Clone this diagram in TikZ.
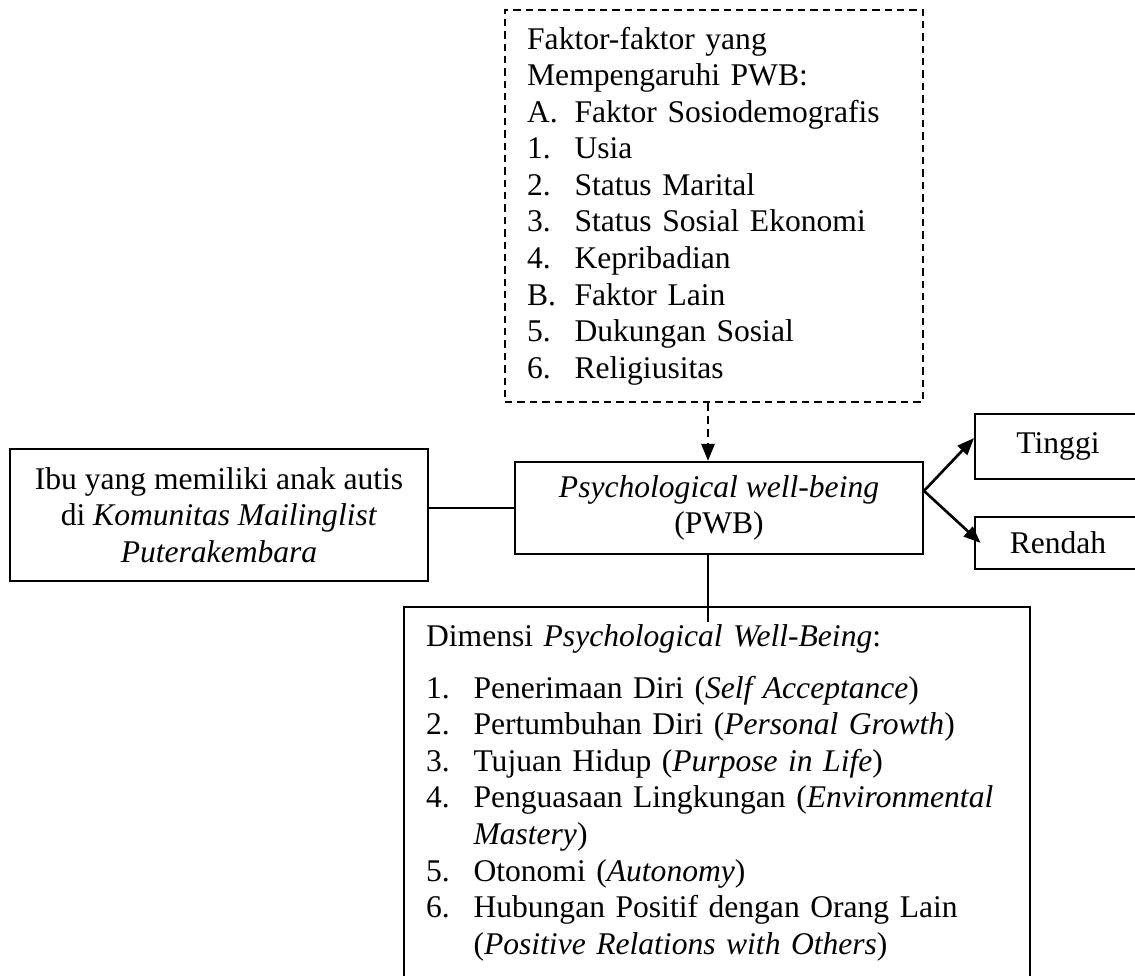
\documentclass[tikz,border=0pt]{standalone}
\usepackage{fontspec}
\setmainfont{Liberation Serif}
\usetikzlibrary{arrows.meta, positioning}

\newcommand{\itm}[2]{\makebox[18pt][l]{#1}#2}

\begin{document}
\begin{tikzpicture}[x=0.38pt, y=-0.38pt,
  font=\fontsize{12pt}{13.9pt}\selectfont,
  box/.style={draw, line width=0.8pt, inner sep=0pt},
  conn/.style={line width=0.8pt},
  arr/.style={line width=1pt, -{Triangle[length=6.5pt,width=5pt]}}]
  \useasboundingbox (0,0) rectangle (1135,975);
  \clip (0,0) rectangle (1135,975);
  % Faktor yang mempengaruhi
  \node[box, dash pattern=on 2.8pt off 1.9pt, minimum width=158.8pt, minimum height=149pt,
        text width=142pt, align=left] (faktor) at (714,206)
    {Faktor-faktor yang\\
     Mempengaruhi PWB:\\
     \itm{A.}{Faktor Sosiodemografis}\\
     \itm{1.}{Usia}\\
     \itm{2.}{Status Marital}\\
     \itm{3.}{Status Sosial Ekonomi}\\
     \itm{4.}{Kepribadian}\\
     \itm{B.}{Faktor Lain}\\
     \itm{5.}{Dukungan Sosial}\\
     \itm{6.}{Religiusitas}};
  % Subjek
  \node[box, minimum width=158.8pt, minimum height=50.2pt, align=center] (ibu) at (219,515)
    {Ibu yang memiliki anak autis\\ di \textit{Komunitas Mailinglist}\\ \textit{Puterakembara}};
  % PWB
  \node[box, minimum width=155pt, minimum height=35pt, align=center] (pwb) at (719,508)
    {\textit{Psychological well-being}\\ (PWB)};
  % Kategori
  \node[box, minimum width=66pt, minimum height=24.7pt, xshift=1.5pt] (tinggi) at (1058,446.5) {\hspace*{-3pt}Tinggi};
  \node[box, minimum width=66pt, minimum height=19.8pt, xshift=1.5pt] (rendah) at (1058,543) {\hspace*{-3pt}Rendah};
  % Dimensi
  \node[box, anchor=north west, inner xsep=8.4pt, inner ysep=6.6pt, text width=221pt,
        align=left] (dimensi) at (403,606)
    {Dimensi \textit{Psychological Well-Being}:\\[5.8pt]
     \itm{1.}{Penerimaan Diri (\textit{Self Acceptance})}\\
     \itm{2.}{Pertumbuhan Diri (\textit{Personal Growth})}\\
     \itm{3.}{Tujuan Hidup (\textit{Purpose in Life})}\\
     \itm{4.}{Penguasaan Lingkungan (\textit{Environmental}}\\
     \hspace*{18pt}\textit{Mastery})\\
     \itm{5.}{Otonomi (\textit{Autonomy})}\\
     \itm{6.}{Hubungan Positif dengan Orang Lain}\\
     \hspace*{18pt}(\textit{Positive Relations with Others})\rule[-12pt]{0pt}{12pt}};
  % Connectors
  \coordinate (lnend) at (708,622);
  \draw[conn] (ibu.east |- pwb.west) -- (pwb.west);
  \draw[conn] (pwb.south -| lnend) -- (lnend);
  \draw[arr, dash pattern=on 3pt off 2pt] (faktor.south -| lnend) -- (pwb.north -| lnend);
  \draw[arr] ([yshift=6.5pt]pwb.east) -- ([yshift=3.2pt]tinggi.west);
  \draw[arr] ([yshift=6.5pt]pwb.east) -- ([xshift=2.5pt]rendah.west);
\end{tikzpicture}
\end{document}
